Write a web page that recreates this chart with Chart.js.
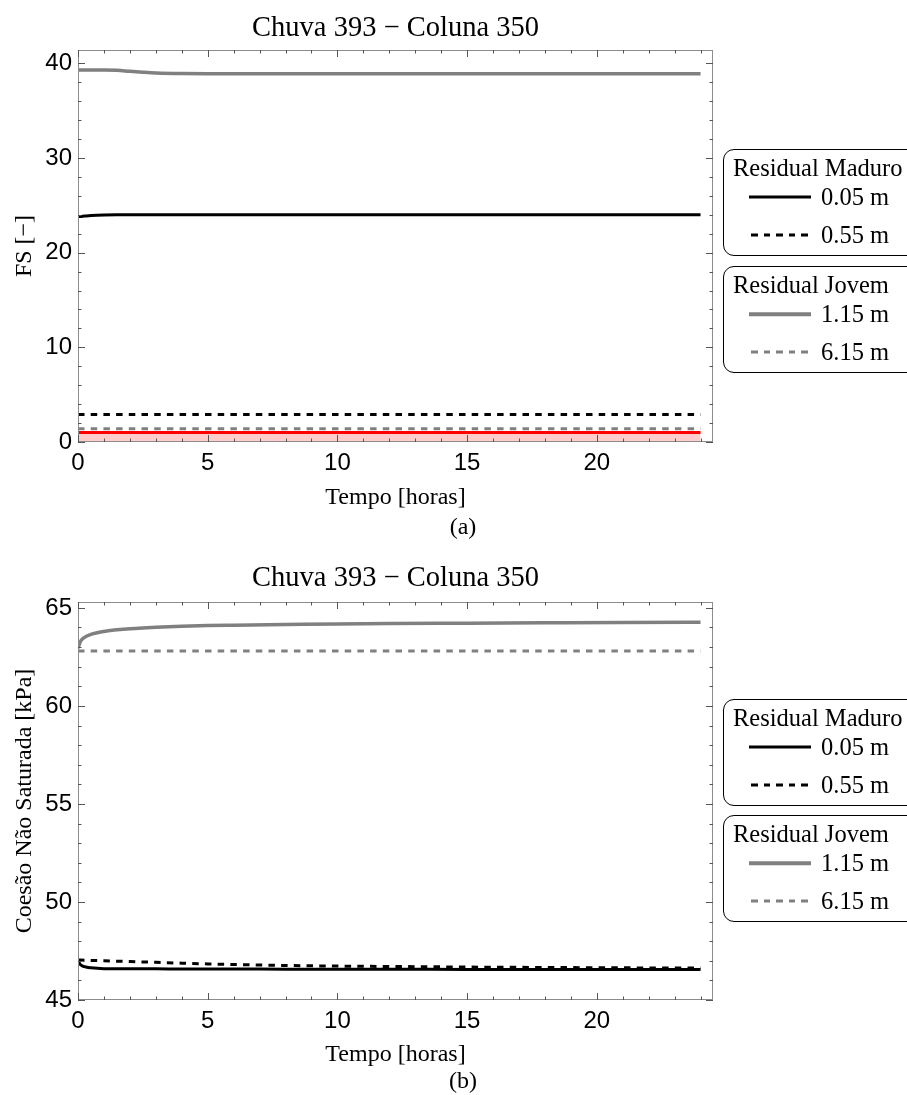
<!DOCTYPE html>
<html>
<head>
<meta charset="utf-8">
<script src="https://cdn.jsdelivr.net/npm/chart.js@4.4.1/dist/chart.umd.min.js"></script>
<style>
    html, body { margin: 0; padding: 0; background: #fff; }
    body { width: 907px; height: 1095px; position: relative; overflow: hidden; font-family: "Liberation Serif", "Times New Roman", serif; }
    canvas { position: absolute; left: 0; }
    .panel-tag { position: absolute; font-size: 24px; line-height: 24px; transform: translate(-50%, -50%); }
    .legend-box { position: absolute; left: 723px; width: 200px; height: 107px; border: 1.5px solid #000; border-radius: 11px; box-sizing: border-box; }
    .legend-title { position: absolute; left: 9px; font-size: 24.5px; line-height: 24px; white-space: nowrap; transform: translateY(-50%); }
    .legend-item { position: absolute; left: 25px; height: 24px; transform: translateY(-50%); white-space: nowrap; }
    .legend-line { position: absolute; left: 0; top: 50%; width: 62px; transform: translateY(-50%); }
    .legend-text { position: absolute; left: 72px; top: 0; font-size: 24.5px; line-height: 24px; }
</style>
</head>
<body>
<canvas id="chartFS" width="907" height="548" style="top:0px"></canvas>
<canvas id="chartCoesao" width="907" height="547" style="top:548px"></canvas>
<div class="panel-tag" style="left:463px; top:526px">(a)</div>
<div class="panel-tag" style="left:463px; top:1080px">(b)</div>
<div id="legends"></div>

<script>
// time axis (hours)
const timeHours = [0, 0.1, 0.25, 0.5, 1, 1.5, 2, 2.5, 3, 4, 5, 6, 8, 10, 12, 15, 18, 21, 24];

// (a) fator de seguranca
const fsMaduro005 = [23.8, 23.82, 23.86, 23.92, 23.98, 24.0, 24.0, 24.0, 24.0, 24.0, 24.0, 24.0, 24.0, 24.0, 24.0, 24.0, 24.0, 24.0, 24.0];
const fsMaduro055 = [2.9, 2.9, 2.9, 2.9, 2.9, 2.9, 2.9, 2.9, 2.9, 2.9, 2.9, 2.9, 2.9, 2.9, 2.9, 2.9, 2.9, 2.9, 2.9];
const fsJovem115 = [39.3, 39.3, 39.3, 39.3, 39.3, 39.26, 39.15, 39.05, 38.97, 38.91, 38.9, 38.9, 38.9, 38.9, 38.9, 38.9, 38.9, 38.9, 38.9];
const fsJovem615 = [1.4, 1.4, 1.4, 1.4, 1.4, 1.4, 1.4, 1.4, 1.4, 1.4, 1.4, 1.4, 1.4, 1.4, 1.4, 1.4, 1.4, 1.4, 1.4];
const fsLimite = [1, 1, 1, 1, 1, 1, 1, 1, 1, 1, 1, 1, 1, 1, 1, 1, 1, 1, 1];

// (b) coesao nao saturada [kPa]
const cMaduro005 = [47.0, 46.8, 46.7, 46.64, 46.6, 46.6, 46.6, 46.59, 46.59, 46.58, 46.58, 46.58, 46.57, 46.57, 46.57, 46.56, 46.56, 46.56, 46.55];
const cMaduro055 = [47.05, 47.04, 47.03, 47.02, 47.0, 46.98, 46.96, 46.94, 46.92, 46.88, 46.84, 46.81, 46.76, 46.73, 46.71, 46.68, 46.66, 46.64, 46.63];
const cJovem115 = [62.95, 63.3, 63.5, 63.65, 63.8, 63.88, 63.94, 63.98, 64.01, 64.06, 64.1, 64.12, 64.15, 64.18, 64.2, 64.22, 64.24, 64.26, 64.27];
const cJovem615 = [62.8, 62.8, 62.8, 62.8, 62.8, 62.8, 62.8, 62.8, 62.8, 62.8, 62.8, 62.8, 62.8, 62.8, 62.8, 62.8, 62.8, 62.8, 62.8];

// tick labels
const xTicks = [0, 5, 10, 15, 20];
const fsTicks = [0, 10, 20, 30, 40];
const cTicks = [45, 50, 55, 60, 65];

const legendGroups = ['Residual Maduro', 'Residual Jovem'];
const seriesLabels = ['0.05 m', '0.55 m', '1.15 m', '6.15 m'];

const DASH = [6.5, 6.2];
const GRAY = '#808080';

function pts(values) {
    return timeHours.map((t, i) => ({ x: t, y: values[i] }));
}

function series(label, values, color, dashed, width) {
    return {
        label: label,
        data: pts(values),
        borderColor: color,
        borderWidth: width,
        borderDash: dashed ? DASH : [],
        pointRadius: 0,
        fill: false,
        cubicInterpolationMode: 'monotone',
        borderCapStyle: 'butt'
    };
}

// frame with inward ticks on all four sides
const frameTicks = {
    id: 'frameTicks',
    afterDatasetsDraw(chart, args, opts) {
        const { ctx, chartArea: a, scales } = chart;
        ctx.save();
        ctx.strokeStyle = '#8c8c8c';
        ctx.lineWidth = 1;
        ctx.strokeRect(a.left + 0.5, a.top + 0.5, a.width - 1, a.height - 1);
        ctx.strokeStyle = '#555';
        const mark = (scale, step, len) => {
            for (let i = Math.ceil(scale.min / step - 1e-9); i * step <= scale.max + 1e-9; i++) {
                const p = Math.round(scale.getPixelForValue(i * step)) + 0.5;
                ctx.beginPath();
                if (scale.axis === 'x') {
                    ctx.moveTo(p, a.bottom); ctx.lineTo(p, a.bottom - len);
                    ctx.moveTo(p, a.top); ctx.lineTo(p, a.top + len);
                } else {
                    ctx.moveTo(a.left, p); ctx.lineTo(a.left + len, p);
                    ctx.moveTo(a.right, p); ctx.lineTo(a.right - len, p);
                }
                ctx.stroke();
            }
        };
        mark(scales.x, opts.xMinor, 3.5);
        mark(scales.x, opts.xMajor, 7);
        mark(scales.y, opts.yMinor, 3.5);
        mark(scales.y, opts.yMajor, 7);
        ctx.restore();
    }
};

function makeChart(id, cfg) {
    return new Chart(document.getElementById(id), {
        type: 'line',
        data: { datasets: cfg.datasets },
        options: {
            responsive: false,
            animation: false,
            layout: { padding: { left: 0, right: 194, top: 0, bottom: cfg.padBottom } },
            plugins: {
                legend: { display: false },
                tooltip: { enabled: false },
                title: {
                    display: true,
                    fullSize: false,
                    text: 'Chuva 393 \u2212 Coluna 350',
                    color: '#000',
                    font: { family: '"Liberation Serif", serif', size: 28.5, weight: 'normal' },
                    padding: cfg.titlePad
                },
                frameTicks: { xMinor: 1, xMajor: 5, yMinor: cfg.yMinor, yMajor: cfg.yMajor }
            },
            scales: {
                x: {
                    type: 'linear',
                    min: 0,
                    max: 24.48,
                    afterBuildTicks: s => { s.ticks = xTicks.map(v => ({ value: v })); },
                    afterFit: s => { s.height = 80; },
                    grid: { display: false, drawTicks: false },
                    border: { display: false },
                    ticks: { color: '#000', padding: 7, maxRotation: 0, font: { family: '"Liberation Sans", Arial, sans-serif', size: 24 } },
                    title: {
                        display: true,
                        text: 'Tempo [horas]',
                        color: '#000',
                        font: { family: '"Liberation Serif", serif', size: 24 },
                        padding: { top: 0, bottom: cfg.xTitlePad }
                    }
                },
                y: {
                    type: 'linear',
                    min: cfg.yMin,
                    max: cfg.yMax,
                    afterBuildTicks: s => { s.ticks = cfg.yTicks.map(v => ({ value: v })); },
                    afterFit: s => { s.width = 78; },
                    grid: { display: false, drawTicks: false },
                    border: { display: false },
                    ticks: { color: '#000', padding: 6, font: { family: '"Liberation Sans", Arial, sans-serif', size: 24 } },
                    title: {
                        display: true,
                        text: cfg.yTitle,
                        color: '#000',
                        font: { family: '"Liberation Serif", serif', size: 24 },
                        padding: { top: 10, bottom: 0 }
                    }
                }
            }
        },
        plugins: [frameTicks]
    });
}

const fsDatasets = [
    Object.assign(series('FS = 1', fsLimite, '#ff0000', false, 3), { fill: 'origin', backgroundColor: 'rgba(255, 0, 0, 0.2)', cubicInterpolationMode: 'default' }),
    series(seriesLabels[3], fsJovem615, GRAY, true, 3),
    series(seriesLabels[1], fsMaduro055, '#000', true, 3),
    series(seriesLabels[0], fsMaduro005, '#000', false, 3),
    series(seriesLabels[2], fsJovem115, GRAY, false, 3.5)
];

const cDatasets = [
    series(seriesLabels[3], cJovem615, GRAY, true, 3),
    series(seriesLabels[2], cJovem115, GRAY, false, 3.5),
    series(seriesLabels[0], cMaduro005, '#000', false, 3),
    series(seriesLabels[1], cMaduro055, '#000', true, 3)
];

makeChart('chartFS', {
    datasets: fsDatasets,
    yMin: 0, yMax: 41.4, yTicks: fsTicks, yMinor: 2, yMajor: 10,
    yTitle: 'FS [\u2212]',
    titlePad: { top: 11, bottom: 4.8 },
    padBottom: 26, xTitlePad: 10
});

makeChart('chartCoesao', {
    datasets: cDatasets,
    yMin: 45, yMax: 65.3, yTicks: cTicks, yMinor: 1, yMajor: 5,
    yTitle: 'Coes\u00e3o N\u00e3o Saturada [kPa]',
    titlePad: { top: 13, bottom: 6.8 },
    padBottom: 15, xTitlePad: 11
});

// legends (two boxed groups per chart)
function legendLine(color, dashed, width) {
    const bg = dashed
        ? `repeating-linear-gradient(90deg, ${color} 0 6.5px, transparent 6.5px 12.6px)`
        : color;
    return `<div class="legend-line" style="height:${width}px; background:${bg}; left:${dashed ? 2 : 0}px; width:${dashed ? 57 : 62}px"></div>`;
}

function legendBox(top, title, items) {
    let html = `<div class="legend-box" style="top:${top}px">`;
    html += `<div class="legend-title" style="top:18px">${title}</div>`;
    items.forEach((it, i) => {
        html += `<div class="legend-item" style="top:${47 + i * 38}px">${legendLine(it.color, it.dashed, it.width)}<span class="legend-text">${it.label}</span></div>`;
    });
    return html + '</div>';
}

const maduroItems = [
    { label: seriesLabels[0], color: '#000', dashed: false, width: 3 },
    { label: seriesLabels[1], color: '#000', dashed: true, width: 3 }
];
const jovemItems = [
    { label: seriesLabels[2], color: GRAY, dashed: false, width: 3.5 },
    { label: seriesLabels[3], color: GRAY, dashed: true, width: 3 }
];

document.getElementById('legends').innerHTML =
    legendBox(149, legendGroups[0], maduroItems) +
    legendBox(266, legendGroups[1], jovemItems) +
    legendBox(699, legendGroups[0], maduroItems) +
    legendBox(815, legendGroups[1], jovemItems);
</script>
</body>
</html>
